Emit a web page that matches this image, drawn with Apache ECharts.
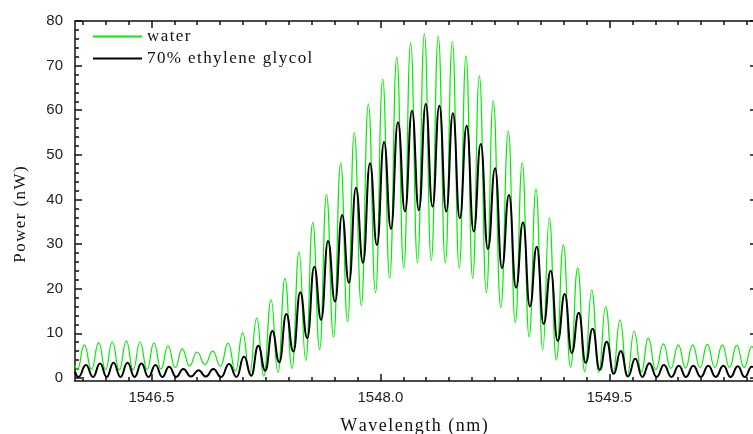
<!DOCTYPE html>
<html>
<head>
<meta charset="utf-8">
<script src="https://cdn.jsdelivr.net/npm/echarts@6/dist/echarts.min.js"></script>
<style>
html, body { margin: 0; padding: 0; background: #fff; }
#chart { width: 753px; height: 434px; }
</style>
</head>
<body>
<div id="chart"></div>
<script>
// fringe extrema (dip / peak alternating), wavelength in nm, power in nW
const waterNm = [
  1546.000, 1546.015, 1546.061, 1546.108, 1546.155, 1546.200, 1546.244, 1546.290, 1546.336, 1546.381,
  1546.426, 1546.472, 1546.517, 1546.563, 1546.609, 1546.656, 1546.702, 1546.750, 1546.799, 1546.851,
  1546.902, 1546.953, 1547.003, 1547.051, 1547.098, 1547.144, 1547.190, 1547.236, 1547.284, 1547.329,
  1547.375, 1547.421, 1547.467, 1547.511, 1547.557, 1547.602, 1547.647, 1547.693, 1547.740, 1547.785,
  1547.829, 1547.875, 1547.921, 1547.968, 1548.015, 1548.061, 1548.107, 1548.153, 1548.198, 1548.243,
  1548.288, 1548.333, 1548.379, 1548.425, 1548.471, 1548.516, 1548.561, 1548.604, 1548.648, 1548.694,
  1548.739, 1548.788, 1548.838, 1548.883, 1548.929, 1548.974, 1549.019, 1549.063, 1549.106, 1549.152,
  1549.198, 1549.245, 1549.292, 1549.338, 1549.384, 1549.430, 1549.475, 1549.523, 1549.569, 1549.616,
  1549.662, 1549.709, 1549.754, 1549.803, 1549.853, 1549.902, 1549.951, 1549.998, 1550.045, 1550.093,
  1550.141, 1550.190, 1550.239, 1550.286, 1550.333, 1550.382, 1550.432, 1550.440
]
const waterNW = [
  2.9, 1.8, 7.4, 1.9, 7.9, 1.8, 8.1, 1.8, 8.3, 1.8,
  8.1, 1.9, 7.8, 2.0, 7.2, 2.3, 6.5, 2.7, 5.8, 3.0,
  6.0, 2.6, 7.8, 1.5, 10.1, 1.0, 13.4, 0.4, 17.5, 1.2,
  22.3, 2.1, 28.2, 3.9, 34.8, 6.4, 41.1, 9.2, 48.2, 12.6,
  55.0, 16.2, 61.4, 19.1, 67.0, 22.3, 71.9, 24.6, 75.1, 25.8,
  77.1, 26.3, 76.6, 25.8, 75.4, 24.6, 72.2, 22.3, 67.7, 19.1,
  62.1, 15.8, 55.3, 12.4, 48.2, 9.2, 42.3, 6.3, 35.8, 4.0,
  29.8, 2.4, 24.6, 1.4, 19.7, 1.2, 16.0, 0.9, 13.0, 0.4,
  10.4, 1.3, 8.9, 1.8, 7.6, 2.1, 7.4, 2.2, 7.4, 2.3,
  7.5, 2.3, 7.4, 2.3, 7.3, 2.3, 7.0, 6.8
]
const glycolNm = [
  1546.000, 1546.022, 1546.072, 1546.118, 1546.164, 1546.208, 1546.252, 1546.298, 1546.344, 1546.390,
  1546.435, 1546.481, 1546.527, 1546.572, 1546.616, 1546.663, 1546.709, 1546.759, 1546.809, 1546.857,
  1546.906, 1546.957, 1547.009, 1547.058, 1547.107, 1547.154, 1547.200, 1547.246, 1547.292, 1547.338,
  1547.384, 1547.430, 1547.475, 1547.521, 1547.567, 1547.612, 1547.657, 1547.703, 1547.749, 1547.794,
  1547.840, 1547.886, 1547.932, 1547.977, 1548.024, 1548.069, 1548.115, 1548.161, 1548.207, 1548.252,
  1548.297, 1548.341, 1548.386, 1548.431, 1548.475, 1548.520, 1548.565, 1548.611, 1548.657, 1548.704,
  1548.751, 1548.796, 1548.842, 1548.888, 1548.934, 1548.979, 1549.024, 1549.069, 1549.115, 1549.161,
  1549.207, 1549.253, 1549.299, 1549.344, 1549.390, 1549.436, 1549.482, 1549.528, 1549.574, 1549.621,
  1549.669, 1549.715, 1549.761, 1549.809, 1549.857, 1549.906, 1549.954, 1550.001, 1550.049, 1550.098,
  1550.147, 1550.196, 1550.246, 1550.293, 1550.340, 1550.386, 1550.432, 1550.440
]
const glycolNW = [
  1.4, 0.2, 2.9, 0.2, 3.2, 0.2, 3.4, 0.2, 3.4, 0.2,
  3.2, 0.2, 2.9, 0.2, 2.5, 0.2, 2.0, 0.3, 1.7, 0.3,
  2.0, 0.2, 3.1, 0.2, 4.8, 0.5, 7.2, 1.6, 10.5, 3.5,
  14.3, 5.9, 19.2, 8.9, 24.9, 13.0, 30.7, 17.1, 36.5, 21.3,
  42.6, 25.8, 48.1, 29.8, 52.9, 33.4, 57.3, 37.3, 59.9, 37.6,
  61.4, 38.4, 61.0, 37.3, 59.3, 35.8, 56.5, 32.8, 52.4, 28.9,
  47.0, 24.6, 41.0, 20.2, 34.9, 16.0, 29.4, 12.1, 24.0, 8.3,
  18.8, 5.6, 14.6, 3.4, 11.0, 1.8, 8.1, 0.9, 6.0, 0.3,
  4.3, 0.2, 3.3, 0.2, 2.9, 0.2, 2.7, 0.2, 2.7, 0.2,
  2.7, 0.2, 2.7, 0.2, 2.6, 0.2, 2.5, 2.4
]
const xTickLabels = [1546.5, 1548.0, 1549.5]
const yTickLabels = [0, 10, 20, 30, 40, 50, 60, 70, 80]

const xMin = 1546.0, xMax = 1550.44
const yMin = -0.7, yMax = 80

// minor ticks: every 0.15 nm on x, every 2 nW on y
const xMinor = []
for (let k = 0; k < 30; k++) xMinor.push(+(1546.05 + k * 0.15).toFixed(2))
const yMinor = []
for (let v = 0; v <= 80; v += 2) yMinor.push(v)

const spaced = s => s.split('').join('\u200a')
const ink = '#111'
const serif = 'Liberation Serif, Times New Roman, serif'
const sans = 'Liberation Sans, Arial, sans-serif'
const frame = { color: ink, width: 1.5 }

const xAxisBase = {
    type: 'value', min: xMin, max: xMax,
    splitLine: { show: false },
    axisLine: { show: true, onZero: false, lineStyle: frame },
    axisLabel: { show: false }
}
const yAxisBase = {
    type: 'value', min: yMin, max: yMax,
    splitLine: { show: false },
    axisLine: { show: true, onZero: false, lineStyle: frame },
    axisLabel: { show: false }
}

const chart = echarts.init(document.getElementById('chart'))
chart.setOption({
    animation: false,
    backgroundColor: '#fff',
    grid: { left: 75, right: 0, top: 21, bottom: 53, outerBoundsMode: 'none', containLabel: false },
    legend: {
        orient: 'vertical',
        left: 92, top: 28,
        padding: 0,
        itemWidth: 49, itemHeight: 14, itemGap: 5,
        itemStyle: { opacity: 0 },
        formatter: n => spaced(n),
        textStyle: { fontFamily: serif, fontSize: 17, color: ink },
        data: ['water', '70% ethylene glycol']
    },
    xAxis: [
        Object.assign({}, xAxisBase, {
            position: 'bottom',
            name: spaced('Wavelength (nm)'),
            nameLocation: 'middle',
            nameGap: 36,
            nameTextStyle: { fontFamily: serif, fontSize: 18, color: ink },
            axisTick: { inside: true, length: 7, customValues: xTickLabels, lineStyle: frame },
            axisLabel: {
                show: true, customValues: xTickLabels, margin: 9,
                formatter: v => v.toFixed(1),
                fontFamily: sans, fontSize: 15, color: '#222'
            }
        }),
        Object.assign({}, xAxisBase, {
            position: 'bottom',
            axisLine: { show: false, onZero: false },
            axisTick: { inside: true, length: 4, customValues: xMinor, lineStyle: frame }
        }),
        Object.assign({}, xAxisBase, {
            position: 'top',
            axisTick: { inside: true, length: 7, customValues: xTickLabels, lineStyle: frame }
        }),
        Object.assign({}, xAxisBase, {
            position: 'top',
            axisLine: { show: false, onZero: false },
            axisTick: { inside: true, length: 4, customValues: xMinor, lineStyle: frame }
        })
    ],
    yAxis: [
        Object.assign({}, yAxisBase, {
            position: 'left',
            name: spaced('Power (nW)'),
            nameLocation: 'middle',
            nameGap: 46,
            nameTextStyle: { fontFamily: serif, fontSize: 17, color: ink, padding: [0, 27, 0, 0] },
            axisTick: { inside: true, length: 7, customValues: yTickLabels, lineStyle: frame },
            axisLabel: {
                show: true, customValues: yTickLabels, margin: 12,
                fontFamily: sans, fontSize: 15, color: '#222'
            }
        }),
        Object.assign({}, yAxisBase, {
            position: 'left',
            axisLine: { show: false, onZero: false },
            axisTick: { inside: true, length: 4, customValues: yMinor, lineStyle: frame }
        }),
        Object.assign({}, yAxisBase, {
            position: 'right',
            axisLine: { show: false, onZero: false },
            axisTick: { inside: true, length: 3, customValues: yTickLabels, lineStyle: frame }
        })
    ],
    series: [
        {
            name: 'water', type: 'line',
            data: waterNm.map((x, i) => [x, waterNW[i]]),
            symbol: 'none', smooth: 0.5, smoothMonotone: 'x', silent: true,
            lineStyle: { color: '#00ee00', width: 1.2 },
            itemStyle: { color: '#00ee00' }
        },
        {
            name: '70% ethylene glycol', type: 'line',
            data: glycolNm.map((x, i) => [x, glycolNW[i]]),
            symbol: 'none', smooth: 0.5, smoothMonotone: 'x', silent: true,
            lineStyle: { color: '#000', width: 2 },
            itemStyle: { color: '#000' }
        }
    ]
})
</script>
</body>
</html>
